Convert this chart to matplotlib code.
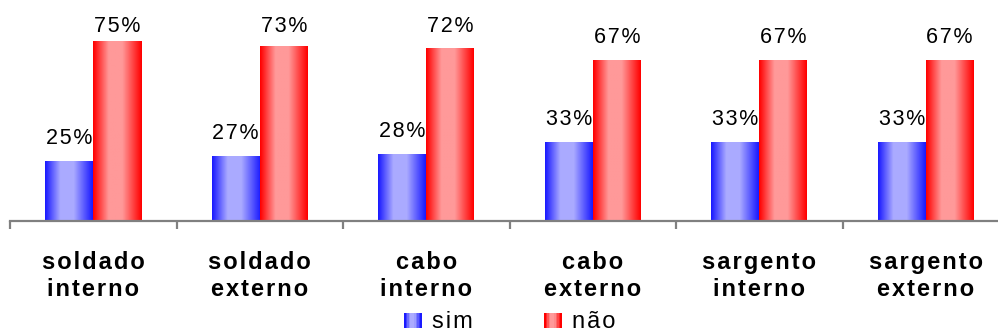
import numpy as np
import matplotlib.pyplot as plt
from matplotlib.patches import Rectangle
from matplotlib.legend_handler import HandlerBase

categories = [["soldado", "interno"], ["soldado", "externo"], ["cabo", "interno"],
              ["cabo", "externo"], ["sargento", "interno"], ["sargento", "externo"]]
sim = [25, 27, 28, 33, 33, 33]
nao = [75, 73, 72, 67, 67, 67]
series_names = ["sim", "não"]

FONT = ["Liberation Sans", "DejaVu Sans"]
GAP = "\u200a"  # loose letter spacing

# edge colour -> highlight colour for the cylinder-like shading
shades = {
    "sim": ((0.10, 0.10, 1.0), (0.67, 0.67, 1.0)),
    "não": ((1.0, 0.0, 0.0), (1.0, 0.60, 0.60)),
}


def profile(n=64):
    t = np.linspace(0, 1, n)
    up = np.clip(t / 0.32, 0, 1)
    down = np.clip((1 - t) / 0.40, 0, 1)
    return np.minimum(up, down)


def gradient_row(name, n=64):
    edge, light = (np.array(c) for c in shades[name])
    p = profile(n)[:, None]
    return edge + (light - edge) * p


def spaced(word):
    return GAP.join(word)


fig = plt.figure(figsize=(9.98, 3.34), dpi=100)
ax = fig.add_axes([10 / 998, 1 - 221 / 334, 6 * 166.5 / 998, 221 / 334])
ymax = 221 / 2.4

x = np.arange(len(categories)) + 0.5
w = 48 / 166.5
bars_sim = ax.bar(x - w / 2, sim, w, facecolor="none", edgecolor="none")
bars_nao = ax.bar(x + w / 2, nao, w, facecolor="none", edgecolor="none")

for name, bars in zip(series_names, [bars_sim, bars_nao]):
    row = gradient_row(name)[None, :, :]
    for b in bars:
        x0, y0 = b.get_x(), b.get_y()
        im = ax.imshow(row, extent=(x0, x0 + b.get_width(), y0, y0 + b.get_height()),
                       aspect="auto", interpolation="bilinear", zorder=2)
        im.set_clip_path(b)

# value labels, kept inside the plot area at the top
for bars, vals in [(bars_sim, sim), (bars_nao, nao)]:
    for b, v in zip(bars, vals):
        y = min(v + 17 / 2.4, (221 - 31.5) / 2.4)
        ax.text(b.get_x() + b.get_width() / 2, y, spaced(f"{v}%"), ha="center",
                va="baseline", fontsize=15.5, family=FONT, color="black")

ax.set_xlim(0, len(categories))
ax.set_ylim(0, ymax)
for s in ["top", "right", "left"]:
    ax.spines[s].set_visible(False)
ax.spines["bottom"].set_color("#808080")
ax.spines["bottom"].set_linewidth(1.6)
ax.set_yticks([])
ax.set_xticks(np.arange(len(categories) + 1))
ax.set_xticklabels([])
ax.tick_params(axis="x", direction="out", length=6, width=1.6, color="#808080")

for xi, (a, b) in zip(x, categories):
    ax.text(xi, -30 / 2.4, spaced(a) + "\n" + spaced(b), ha="center", va="top",
            fontsize=17, fontweight="bold", family=FONT, linespacing=1.2)


class GradientHandler(HandlerBase):
    def create_artists(self, legend, orig_handle, xdescent, ydescent, width, height,
                       fontsize, trans):
        cols = gradient_row(orig_handle.get_label(), 12)
        n = len(cols)
        out = []
        for i, c in enumerate(cols):
            out.append(Rectangle((-xdescent + i * width / n, -ydescent), width / n * 1.05,
                                 height, facecolor=c, edgecolor="none", transform=trans))
        return out


handles = [Rectangle((0, 0), 1, 1, label=n) for n in series_names]
fig.legend(handles, [spaced(n) for n in series_names], loc="center",
           bbox_to_anchor=(0.511, 1 - 322.5 / 334), ncol=2, frameon=False,
           prop={"family": FONT, "size": 17}, handler_map={Rectangle: GradientHandler()},
           handlelength=0.75, handleheight=0.62, handletextpad=0.45, columnspacing=3.0,
           borderpad=0)

plt.savefig("out.png", dpi=100)
